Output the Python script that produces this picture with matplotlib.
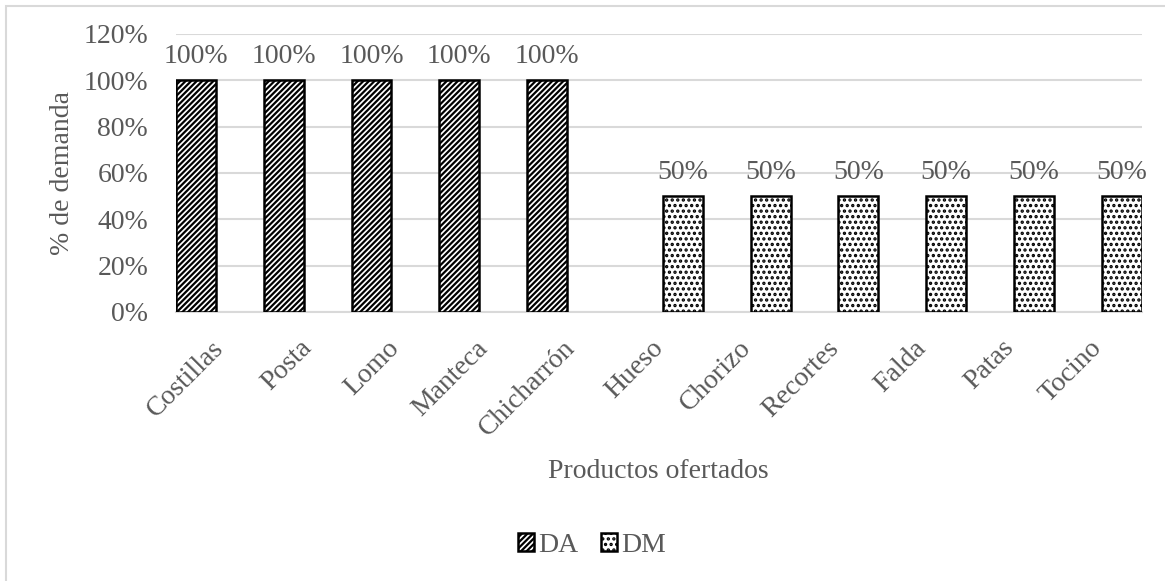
import matplotlib.pyplot as plt
from matplotlib.patches import Rectangle
from matplotlib.ticker import FuncFormatter
from matplotlib.transforms import ScaledTranslation
import numpy as np

plt.rcParams['font.family'] = ['Liberation Serif', 'DejaVu Serif']
plt.rcParams['hatch.linewidth'] = 1.6

productos = ['Costillas', 'Posta', 'Lomo', 'Manteca', 'Chicharrón', 'Hueso',
             'Chorizo', 'Recortes', 'Falda', 'Patas', 'Tocino']
da = [1.0, 1.0, 1.0, 1.0, 1.0, 0, 0, 0, 0, 0, 0]
dm = [0, 0, 0, 0, 0, 0.5, 0.5, 0.5, 0.5, 0.5, 0.5]
y_ticks = [0, 0.2, 0.4, 0.6, 0.8, 1.0, 1.2]

GREY = '#595959'
GRID = '#d9d9d9'
FS = 20

fig = plt.figure(figsize=(11.65, 5.81), dpi=100)
ax = fig.add_axes([0.151, 0.463, 0.829, 0.4785])

# chart frame
fig.patches.append(Rectangle((6 / 1165, -0.1), 1.2, 1 - 6 / 581 + 0.1,
                             transform=fig.transFigure, fill=False,
                             edgecolor=GRID, linewidth=1.5))

x = np.arange(len(productos))
w = 0.455
off = 0.5 - w / 2

def hide_zero(vals):
    return [v if v > 0 else np.nan for v in vals]

b1 = ax.bar(x - off, hide_zero(da), w, color='white', edgecolor='black',
            hatch='//////', linewidth=1.8, label='DA', zorder=3)
b2 = ax.bar(x + off, hide_zero(dm), w, color='white', edgecolor='black',
            hatch='...', linewidth=1.8, label='DM', zorder=3)

for bars, vals in ((b1, da), (b2, dm)):
    for bar, v in zip(bars, vals):
        if v > 0:
            ax.annotate(f'{v:.0%}', (bar.get_x() + bar.get_width() / 2, v),
                        xytext=(0, 8), textcoords='offset points',
                        ha='center', va='bottom', fontsize=FS, color=GREY)

ax.set_xlim(-0.5, len(productos) - 0.5)
ax.set_ylim(0, 1.2)
ax.set_yticks(y_ticks)
ax.yaxis.set_major_formatter(FuncFormatter(lambda v, p: f'{v:.0%}'))
ax.grid(axis='y', color=GRID, linewidth=1.5, zorder=0)
ax.set_axisbelow(True)
for s in ('top', 'right', 'left'):
    ax.spines[s].set_visible(False)
ax.spines['bottom'].set_color(GRID)
ax.spines['bottom'].set_linewidth(1.5)
ax.tick_params(length=0, colors=GREY, labelsize=FS)
ax.tick_params(axis='y', pad=20)

ax.set_xticks(x)
ax.set_xticklabels(productos, rotation=45, ha='right', rotation_mode='anchor')
ax.tick_params(axis='x', pad=17)
shift = ScaledTranslation(-6 / 72, 0, fig.dpi_scale_trans)
for lbl in ax.get_xticklabels():
    lbl.set_transform(lbl.get_transform() + shift)

ax.set_ylabel('% de demanda', fontsize=FS, color=GREY, labelpad=6)
fig.text(658 / 1165, 1 - 471 / 581, 'Productos ofertados', ha='center',
         va='center', fontsize=FS, color=GREY)

leg = fig.legend(handles=[b1, b2], loc='center', bbox_to_anchor=(592 / 1165, 1 - 545 / 581),
                 ncol=2, frameon=False, fontsize=FS, handlelength=0.6, handleheight=0.6,
                 handletextpad=0.15, columnspacing=0.8)
for t in leg.get_texts():
    t.set_color(GREY)

fig.savefig('out.png', dpi=100)
